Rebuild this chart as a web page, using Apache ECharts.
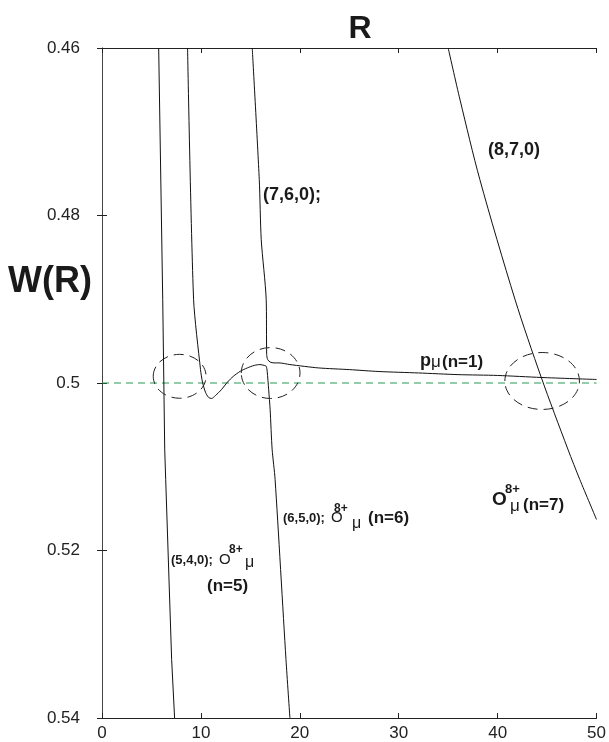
<!DOCTYPE html>
<html>
<head>
<meta charset="utf-8">
<script src="https://cdn.jsdelivr.net/npm/echarts@6/dist/echarts.min.js"></script>
<style>
html,body{margin:0;padding:0;background:#fff;}
#main{width:609px;height:742px;}
</style>
</head>
<body>
<div id="main"></div>
<script>
// ---- data (R, W(R)) ----
var xTicks = [0, 10, 20, 30, 40, 50];
var yTicks = [0.46, 0.48, 0.5, 0.52, 0.54];

// (5,4,0); O8+mu (n=5)
var n5R = [5.73, 6.14, 6.34, 6.44, 7.04, 7.34];
var n5W = [0.46, 0.490, 0.5079, 0.5115, 0.533, 0.54];

// (6,5,0); O8+mu (n=6) with avoided crossing bump
var n6R = [8.65, 9.26, 9.96, 10.16, 10.46, 10.76, 11.07, 11.47, 12.07, 12.68, 13.28, 13.98, 14.69, 15.39, 15.99, 16.4, 16.6, 16.7, 16.85, 17.0, 17.2, 17.5, 18.6, 19.0];
var n6W = [0.46, 0.490, 0.4984, 0.4999, 0.5011, 0.5017, 0.50185, 0.5015, 0.5008, 0.4999, 0.4992, 0.4986, 0.4982, 0.4979, 0.4978, 0.4979, 0.4980, 0.4986, 0.5008, 0.5032, 0.5079, 0.5115, 0.533, 0.54];

// (7,6,0) -> p mu (n=1)
var n7R = [15.19, 15.9, 16.1, 16.6, 16.65, 16.75, 17.0, 17.4, 17.9, 19.0, 21.9, 25.0, 28.0, 32.0, 36.0, 40.0, 44.4, 50.0];
var n7W = [0.46, 0.4757, 0.4829, 0.4900, 0.4966, 0.4972, 0.4975, 0.4976, 0.4976, 0.4978, 0.4982, 0.4984, 0.49863, 0.4988, 0.4990, 0.4991, 0.49934, 0.49958];

// (8,7,0); O8+mu (n=7)
var n8R = [35.0, 36.2, 38.2, 41.75, 44.4, 47.1, 48.3, 50.0];
var n8W = [0.46, 0.4662, 0.4757, 0.4900, 0.4993, 0.5079, 0.5115, 0.5163];

// reference level
var refR = [0, 50];
var refW = [0.5, 0.5];

// dashed ellipses: centre R, centre W, half-width (R units), half-height (W units)
var ellCR = [7.85, 17.05, 44.5];
var ellCW = [0.4992, 0.49881, 0.49976];
var ellRX = [2.67, 2.97, 3.77];
var ellRY = [0.00262, 0.00304, 0.0034];

function pairs(a, b) { return a.map(function (v, i) { return [v, b[i]]; }); }
var ellData = ellCR.map(function (v, i) { return [v, ellCW[i], ellRX[i], ellRY[i]]; });

var FONT = "'Liberation Sans', Arial, Helvetica, sans-serif";
var SERIF = "'DejaVu Serif', 'Liberation Serif', serif";

function txt(s, x, y, size, weight, family) {
  return {
    type: 'text', x: x, y: y, z: 100,
    style: {
      text: s, fill: '#1a1a1a',
      fontSize: size, fontWeight: weight || 'bold', fontFamily: family || FONT,
      align: 'left', verticalAlign: 'middle',
      textAlign: 'left', textVerticalAlign: 'middle'
    }
  };
}

var chart = echarts.init(document.getElementById('main'), null, { renderer: 'canvas' });

var lineStyleBlack = { color: '#111', width: 1 };
function curve(R, W, smooth) {
  return {
    type: 'line', data: pairs(R, W), symbol: 'none', smooth: smooth || false,
    lineStyle: lineStyleBlack, itemStyle: { color: '#111' }, z: 3, silent: true,
    xAxisIndex: 0, yAxisIndex: 0
  };
}

function axisCommon(col) {
  return {
    axisLine: { show: true, lineStyle: { color: col, width: 1 } },
    axisTick: { show: true, inside: true, length: 5, lineStyle: { color: '#222' } },
    splitLine: { show: false }
  };
}

var option = {
  animation: false,
  backgroundColor: '#fff',
  grid: { left: 102, right: 10, top: 48, bottom: 23, containLabel: false },
  xAxis: [
    Object.assign({
      type: 'value', position: 'bottom', min: xTicks[0], max: xTicks[xTicks.length - 1], interval: 10,
      axisLabel: { fontSize: 17, color: '#222', fontFamily: FONT, margin: 7 }
    }, axisCommon('#222')),
    Object.assign({
      type: 'value', position: 'top', min: xTicks[0], max: xTicks[xTicks.length - 1], interval: 10,
      axisLabel: { show: false }
    }, axisCommon('#222'))
  ],
  yAxis: [
    Object.assign({
      type: 'value', position: 'left', inverse: true, min: yTicks[0], max: yTicks[yTicks.length - 1], interval: 0.02,
      axisLabel: { fontSize: 17, color: '#222', fontFamily: FONT, margin: 22,
        formatter: function (v) { return String(+v.toFixed(2)); } }
    }, axisCommon('#777')),
    Object.assign({
      type: 'value', position: 'right', inverse: true, min: yTicks[0], max: yTicks[yTicks.length - 1], interval: 0.02,
      axisLabel: { show: false }
    }, axisCommon('#444'))
  ],
  series: [
    {
      type: 'line', data: pairs(refR, refW), symbol: 'none', silent: true, z: 2,
      lineStyle: { color: '#2a9a55', width: 1.1, type: [7, 5] }
    },
    curve(n5R, n5W),
    curve(n6R, n6W, 0.25),
    curve(n7R, n7W, 0.25),
    curve(n8R, n8W, 0.3),
    {
      type: 'custom', data: ellData, silent: true, z: 4,
      encode: { x: 0, y: 1 },
      renderItem: function (params, api) {
        var c = api.coord([api.value(0), api.value(1)]);
        var s = api.size([api.value(2), api.value(3)], [api.value(0), api.value(1)]);
        return {
          type: 'ellipse',
          shape: { cx: c[0], cy: c[1], rx: Math.abs(s[0]), ry: Math.abs(s[1]) },
          style: { fill: 'none', stroke: '#222', lineWidth: 1, lineDash: [10, 6] }
        };
      }
    }
  ],
  graphic: [
    { type: 'text', x: 360, y: 29, z: 100, style: { text: 'R', fill: '#1a1a1a', fontSize: 32, fontWeight: 'bold', fontFamily: FONT, align: 'center', verticalAlign: 'middle', textAlign: 'center', textVerticalAlign: 'middle' } },
    { type: 'text', x: 50, y: 282, z: 100, style: { text: 'W(R)', fill: '#1a1a1a', fontSize: 36, fontWeight: 'bold', fontFamily: FONT, align: 'center', verticalAlign: 'middle', textAlign: 'center', textVerticalAlign: 'middle' } },
    txt('(8,7,0)', 488, 150, 18),
    txt('(7,6,0);', 263, 195, 18),
    txt('p', 420, 361, 18),
    txt('\u03bc', 431, 362, 17, 'normal', FONT),
    txt('(n=1)', 442, 362, 17),
    txt('(6,5,0);', 283, 518, 13),
    txt('O', 331, 518, 15, 'normal'),
    txt('8+', 334, 509, 12),
    txt('\u03bc', 352, 524, 16, 'normal', FONT),
    txt('(n=6)', 368, 518, 17),
    txt('(5,4,0);', 171, 560, 13),
    txt('O', 219, 560, 15, 'normal'),
    txt('8+', 229, 550, 12),
    txt('\u03bc', 245, 563, 16, 'normal', FONT),
    txt('(n=5)', 207, 586, 17),
    txt('O', 492, 500, 19),
    txt('8+', 505, 489, 13),
    txt('\u03bc', 510, 506, 17, 'normal', FONT),
    txt('(n=7)', 523, 505, 17)
  ]
};
chart.setOption(option);
</script>
</body>
</html>
